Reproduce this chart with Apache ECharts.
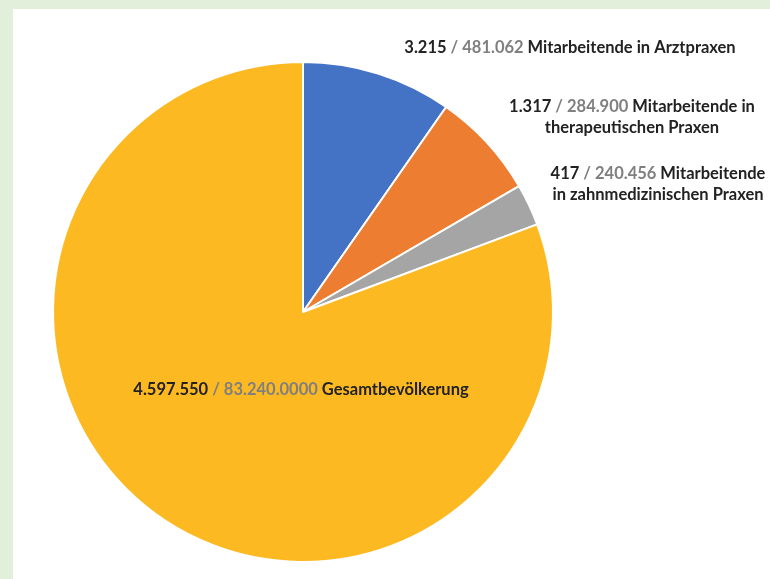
<!DOCTYPE html>
<html>
<head>
<meta charset="utf-8">
<script src="https://cdn.jsdelivr.net/npm/echarts@6/dist/echarts.min.js"></script>
<style>
  html, body { margin: 0; padding: 0; background: #e2efdb; }
  #main { width: 770px; height: 579px; }
</style>
</head>
<body>
<div id="main"></div>
<script>
// Anteile der Segmente (aus dem Bild geschätzt, in %)
var shares = [9.7, 6.9, 2.7, 80.7];
var counts = ['3.215', '1.317', '417', '4.597.550'];
var totals = ['481.062', '284.900', '240.456', '83.240.0000'];
var line1 = ['Mitarbeitende in Arztpraxen', 'Mitarbeitende in', 'Mitarbeitende', 'Gesamtbevölkerung'];
var line2 = ['', 'therapeutischen Praxen', 'in zahnmedizinischen Praxen', ''];
var colors = ['#4472c4', '#ed7d31', '#a5a5a5', '#fdb922'];

// Positionen der Beschriftungen (Mitte)
var labelPos = [[570, 48], [632, 117], [658, 184], [301, 390]];

var chart = echarts.init(document.getElementById('main'));

var data = [];
for (var i = 0; i < shares.length; i++) {
  data.push({ value: shares[i], name: line1[i] });
}

chart.setOption({
  backgroundColor: 'transparent',
  animation: false,
  color: colors,
  graphic: [{
    type: 'rect',
    z: -10,
    shape: { x: 13, y: 9, width: 757, height: 570 },
    style: { fill: '#ffffff' }
  }],
  series: [{
    type: 'pie',
    center: [303, 312],
    radius: 250,
    startAngle: 90,
    clockwise: true,
    itemStyle: { borderColor: '#ffffff', borderWidth: 2 },
    label: {
      show: true,
      position: 'outside',
      overflow: 'none',
      fontFamily: 'Lato',
      fontWeight: 'bold',
      fontSize: 16.5,
      lineHeight: 21,
      color: '#222222',
      align: 'center',
      formatter: function (p) {
        var i = p.dataIndex;
        var s = '{a|' + counts[i] + '} {b|/ ' + totals[i] + '} {a|' + line1[i] + '}';
        if (line2[i]) s += '\n{a|' + line2[i] + '}';
        return s;
      },
      rich: {
        a: { fontFamily: 'Lato', fontWeight: 'bold', fontSize: 16.5, color: '#222222', lineHeight: 21 },
        b: { fontFamily: 'Lato', fontWeight: 'bold', fontSize: 16.5, color: '#7f7f7f', lineHeight: 21 }
      }
    },
    labelLine: { show: false },
    labelLayout: function (params) {
      var p = labelPos[params.dataIndex];
      return { x: p[0], y: p[1], align: 'center', verticalAlign: 'middle', width: 400 };
    },
    data: data
  }]
});
</script>
</body>
</html>
